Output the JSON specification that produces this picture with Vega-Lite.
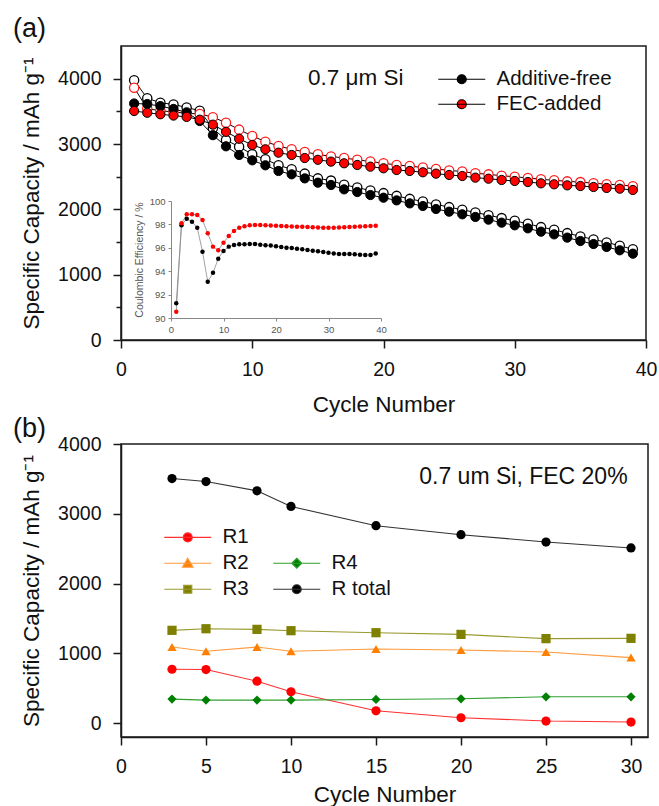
{
"$schema": "https://vega.github.io/schema/vega-lite/v6.json",
"padding": {"left": 12, "top": 14, "right": 5, "bottom": 0},
"datasets": {
"capacity": [
{"cycle":1,"series":"Additive-free","kind":"discharge","capacity":3620},{"cycle":2,"series":"Additive-free","kind":"discharge","capacity":3612},{"cycle":3,"series":"Additive-free","kind":"discharge","capacity":3580},{"cycle":4,"series":"Additive-free","kind":"discharge","capacity":3536},{"cycle":5,"series":"Additive-free","kind":"discharge","capacity":3485},{"cycle":6,"series":"Additive-free","kind":"discharge","capacity":3352},{"cycle":7,"series":"Additive-free","kind":"discharge","capacity":3135},{"cycle":8,"series":"Additive-free","kind":"discharge","capacity":2965},{"cycle":9,"series":"Additive-free","kind":"discharge","capacity":2832},{"cycle":10,"series":"Additive-free","kind":"discharge","capacity":2750},{"cycle":11,"series":"Additive-free","kind":"discharge","capacity":2674},{"cycle":12,"series":"Additive-free","kind":"discharge","capacity":2587},{"cycle":13,"series":"Additive-free","kind":"discharge","capacity":2536},{"cycle":14,"series":"Additive-free","kind":"discharge","capacity":2474},{"cycle":15,"series":"Additive-free","kind":"discharge","capacity":2408},{"cycle":16,"series":"Additive-free","kind":"discharge","capacity":2373},{"cycle":17,"series":"Additive-free","kind":"discharge","capacity":2306},{"cycle":18,"series":"Additive-free","kind":"discharge","capacity":2265},{"cycle":19,"series":"Additive-free","kind":"discharge","capacity":2219},{"cycle":20,"series":"Additive-free","kind":"discharge","capacity":2178},{"cycle":21,"series":"Additive-free","kind":"discharge","capacity":2137},{"cycle":22,"series":"Additive-free","kind":"discharge","capacity":2091},{"cycle":23,"series":"Additive-free","kind":"discharge","capacity":2051},{"cycle":24,"series":"Additive-free","kind":"discharge","capacity":2005},{"cycle":25,"series":"Additive-free","kind":"discharge","capacity":1964},{"cycle":26,"series":"Additive-free","kind":"discharge","capacity":1924},{"cycle":27,"series":"Additive-free","kind":"discharge","capacity":1883},{"cycle":28,"series":"Additive-free","kind":"discharge","capacity":1842},{"cycle":29,"series":"Additive-free","kind":"discharge","capacity":1796},{"cycle":30,"series":"Additive-free","kind":"discharge","capacity":1755},{"cycle":31,"series":"Additive-free","kind":"discharge","capacity":1709},{"cycle":32,"series":"Additive-free","kind":"discharge","capacity":1658},{"cycle":33,"series":"Additive-free","kind":"discharge","capacity":1617},{"cycle":34,"series":"Additive-free","kind":"discharge","capacity":1567},{"cycle":35,"series":"Additive-free","kind":"discharge","capacity":1515},{"cycle":36,"series":"Additive-free","kind":"discharge","capacity":1469},{"cycle":37,"series":"Additive-free","kind":"discharge","capacity":1424},{"cycle":38,"series":"Additive-free","kind":"discharge","capacity":1373},{"cycle":39,"series":"Additive-free","kind":"discharge","capacity":1321},
{"cycle":1,"series":"Additive-free","kind":"charge","capacity":3975},{"cycle":2,"series":"Additive-free","kind":"charge","capacity":3700},{"cycle":3,"series":"Additive-free","kind":"charge","capacity":3632},{"cycle":4,"series":"Additive-free","kind":"charge","capacity":3604},{"cycle":5,"series":"Additive-free","kind":"charge","capacity":3560},{"cycle":6,"series":"Additive-free","kind":"charge","capacity":3510},{"cycle":7,"series":"Additive-free","kind":"charge","capacity":3240},{"cycle":8,"series":"Additive-free","kind":"charge","capacity":3060},{"cycle":9,"series":"Additive-free","kind":"charge","capacity":2959},{"cycle":10,"series":"Additive-free","kind":"charge","capacity":2842},{"cycle":11,"series":"Additive-free","kind":"charge","capacity":2766},{"cycle":12,"series":"Additive-free","kind":"charge","capacity":2674},{"cycle":13,"series":"Additive-free","kind":"charge","capacity":2613},{"cycle":14,"series":"Additive-free","kind":"charge","capacity":2547},{"cycle":15,"series":"Additive-free","kind":"charge","capacity":2474},{"cycle":16,"series":"Additive-free","kind":"charge","capacity":2440},{"cycle":17,"series":"Additive-free","kind":"charge","capacity":2375},{"cycle":18,"series":"Additive-free","kind":"charge","capacity":2333},{"cycle":19,"series":"Additive-free","kind":"charge","capacity":2288},{"cycle":20,"series":"Additive-free","kind":"charge","capacity":2248},{"cycle":21,"series":"Additive-free","kind":"charge","capacity":2206},{"cycle":22,"series":"Additive-free","kind":"charge","capacity":2160},{"cycle":23,"series":"Additive-free","kind":"charge","capacity":2120},{"cycle":24,"series":"Additive-free","kind":"charge","capacity":2075},{"cycle":25,"series":"Additive-free","kind":"charge","capacity":2034},{"cycle":26,"series":"Additive-free","kind":"charge","capacity":1993},{"cycle":27,"series":"Additive-free","kind":"charge","capacity":1952},{"cycle":28,"series":"Additive-free","kind":"charge","capacity":1911},{"cycle":29,"series":"Additive-free","kind":"charge","capacity":1866},{"cycle":30,"series":"Additive-free","kind":"charge","capacity":1824},{"cycle":31,"series":"Additive-free","kind":"charge","capacity":1779},{"cycle":32,"series":"Additive-free","kind":"charge","capacity":1728},{"cycle":33,"series":"Additive-free","kind":"charge","capacity":1687},{"cycle":34,"series":"Additive-free","kind":"charge","capacity":1636},{"cycle":35,"series":"Additive-free","kind":"charge","capacity":1585},{"cycle":36,"series":"Additive-free","kind":"charge","capacity":1540},{"cycle":37,"series":"Additive-free","kind":"charge","capacity":1494},{"cycle":38,"series":"Additive-free","kind":"charge","capacity":1443},{"cycle":39,"series":"Additive-free","kind":"charge","capacity":1388},
{"cycle":1,"series":"FEC-added","kind":"discharge","capacity":3505},{"cycle":2,"series":"FEC-added","kind":"discharge","capacity":3478},{"cycle":3,"series":"FEC-added","kind":"discharge","capacity":3455},{"cycle":4,"series":"FEC-added","kind":"discharge","capacity":3435},{"cycle":5,"series":"FEC-added","kind":"discharge","capacity":3415},{"cycle":6,"series":"FEC-added","kind":"discharge","capacity":3372},{"cycle":7,"series":"FEC-added","kind":"discharge","capacity":3296},{"cycle":8,"series":"FEC-added","kind":"discharge","capacity":3186},{"cycle":9,"series":"FEC-added","kind":"discharge","capacity":3080},{"cycle":10,"series":"FEC-added","kind":"discharge","capacity":2985},{"cycle":11,"series":"FEC-added","kind":"discharge","capacity":2919},{"cycle":12,"series":"FEC-added","kind":"discharge","capacity":2867},{"cycle":13,"series":"FEC-added","kind":"discharge","capacity":2832},{"cycle":14,"series":"FEC-added","kind":"discharge","capacity":2785},{"cycle":15,"series":"FEC-added","kind":"discharge","capacity":2758},{"cycle":16,"series":"FEC-added","kind":"discharge","capacity":2730},{"cycle":17,"series":"FEC-added","kind":"discharge","capacity":2705},{"cycle":18,"series":"FEC-added","kind":"discharge","capacity":2679},{"cycle":19,"series":"FEC-added","kind":"discharge","capacity":2653},{"cycle":20,"series":"FEC-added","kind":"discharge","capacity":2628},{"cycle":21,"series":"FEC-added","kind":"discharge","capacity":2602},{"cycle":22,"series":"FEC-added","kind":"discharge","capacity":2587},{"cycle":23,"series":"FEC-added","kind":"discharge","capacity":2567},{"cycle":24,"series":"FEC-added","kind":"discharge","capacity":2546},{"cycle":25,"series":"FEC-added","kind":"discharge","capacity":2526},{"cycle":26,"series":"FEC-added","kind":"discharge","capacity":2510},{"cycle":27,"series":"FEC-added","kind":"discharge","capacity":2485},{"cycle":28,"series":"FEC-added","kind":"discharge","capacity":2469},{"cycle":29,"series":"FEC-added","kind":"discharge","capacity":2449},{"cycle":30,"series":"FEC-added","kind":"discharge","capacity":2434},{"cycle":31,"series":"FEC-added","kind":"discharge","capacity":2418},{"cycle":32,"series":"FEC-added","kind":"discharge","capacity":2398},{"cycle":33,"series":"FEC-added","kind":"discharge","capacity":2383},{"cycle":34,"series":"FEC-added","kind":"discharge","capacity":2367},{"cycle":35,"series":"FEC-added","kind":"discharge","capacity":2357},{"cycle":36,"series":"FEC-added","kind":"discharge","capacity":2342},{"cycle":37,"series":"FEC-added","kind":"discharge","capacity":2327},{"cycle":38,"series":"FEC-added","kind":"discharge","capacity":2316},{"cycle":39,"series":"FEC-added","kind":"discharge","capacity":2296},
{"cycle":1,"series":"FEC-added","kind":"charge","capacity":3862},{"cycle":2,"series":"FEC-added","kind":"charge","capacity":3540},{"cycle":3,"series":"FEC-added","kind":"charge","capacity":3510},{"cycle":4,"series":"FEC-added","kind":"charge","capacity":3490},{"cycle":5,"series":"FEC-added","kind":"charge","capacity":3470},{"cycle":6,"series":"FEC-added","kind":"charge","capacity":3460},{"cycle":7,"series":"FEC-added","kind":"charge","capacity":3410},{"cycle":8,"series":"FEC-added","kind":"charge","capacity":3326},{"cycle":9,"series":"FEC-added","kind":"charge","capacity":3220},{"cycle":10,"series":"FEC-added","kind":"charge","capacity":3123},{"cycle":11,"series":"FEC-added","kind":"charge","capacity":3036},{"cycle":12,"series":"FEC-added","kind":"charge","capacity":2970},{"cycle":13,"series":"FEC-added","kind":"charge","capacity":2919},{"cycle":14,"series":"FEC-added","kind":"charge","capacity":2878},{"cycle":15,"series":"FEC-added","kind":"charge","capacity":2842},{"cycle":16,"series":"FEC-added","kind":"charge","capacity":2810},{"cycle":17,"series":"FEC-added","kind":"charge","capacity":2785},{"cycle":18,"series":"FEC-added","kind":"charge","capacity":2758},{"cycle":19,"series":"FEC-added","kind":"charge","capacity":2732},{"cycle":20,"series":"FEC-added","kind":"charge","capacity":2706},{"cycle":21,"series":"FEC-added","kind":"charge","capacity":2680},{"cycle":22,"series":"FEC-added","kind":"charge","capacity":2662},{"cycle":23,"series":"FEC-added","kind":"charge","capacity":2640},{"cycle":24,"series":"FEC-added","kind":"charge","capacity":2618},{"cycle":25,"series":"FEC-added","kind":"charge","capacity":2596},{"cycle":26,"series":"FEC-added","kind":"charge","capacity":2578},{"cycle":27,"series":"FEC-added","kind":"charge","capacity":2553},{"cycle":28,"series":"FEC-added","kind":"charge","capacity":2535},{"cycle":29,"series":"FEC-added","kind":"charge","capacity":2515},{"cycle":30,"series":"FEC-added","kind":"charge","capacity":2498},{"cycle":31,"series":"FEC-added","kind":"charge","capacity":2481},{"cycle":32,"series":"FEC-added","kind":"charge","capacity":2460},{"cycle":33,"series":"FEC-added","kind":"charge","capacity":2444},{"cycle":34,"series":"FEC-added","kind":"charge","capacity":2428},{"cycle":35,"series":"FEC-added","kind":"charge","capacity":2417},{"cycle":36,"series":"FEC-added","kind":"charge","capacity":2400},{"cycle":37,"series":"FEC-added","kind":"charge","capacity":2385},{"cycle":38,"series":"FEC-added","kind":"charge","capacity":2373},{"cycle":39,"series":"FEC-added","kind":"charge","capacity":2355}
],
"ce": [
{"cycle":1,"series":"Additive-free","ce":91.26},{"cycle":2,"series":"Additive-free","ce":97.92},{"cycle":3,"series":"Additive-free","ce":98.49},{"cycle":4,"series":"Additive-free","ce":98.23},{"cycle":5,"series":"Additive-free","ce":97.72},{"cycle":6,"series":"Additive-free","ce":95.67},{"cycle":7,"series":"Additive-free","ce":93.1},{"cycle":8,"series":"Additive-free","ce":93.87},{"cycle":9,"series":"Additive-free","ce":95.07},{"cycle":10,"series":"Additive-free","ce":95.73},{"cycle":11,"series":"Additive-free","ce":96.1},{"cycle":12,"series":"Additive-free","ce":96.24},{"cycle":13,"series":"Additive-free","ce":96.3},{"cycle":14,"series":"Additive-free","ce":96.3},{"cycle":15,"series":"Additive-free","ce":96.33},{"cycle":16,"series":"Additive-free","ce":96.33},{"cycle":17,"series":"Additive-free","ce":96.27},{"cycle":18,"series":"Additive-free","ce":96.22},{"cycle":19,"series":"Additive-free","ce":96.19},{"cycle":20,"series":"Additive-free","ce":96.13},{"cycle":21,"series":"Additive-free","ce":96.07},{"cycle":22,"series":"Additive-free","ce":96.01},{"cycle":23,"series":"Additive-free","ce":95.98},{"cycle":24,"series":"Additive-free","ce":95.92},{"cycle":25,"series":"Additive-free","ce":95.87},{"cycle":26,"series":"Additive-free","ce":95.81},{"cycle":27,"series":"Additive-free","ce":95.75},{"cycle":28,"series":"Additive-free","ce":95.7},{"cycle":29,"series":"Additive-free","ce":95.64},{"cycle":30,"series":"Additive-free","ce":95.58},{"cycle":31,"series":"Additive-free","ce":95.52},{"cycle":32,"series":"Additive-free","ce":95.47},{"cycle":33,"series":"Additive-free","ce":95.47},{"cycle":34,"series":"Additive-free","ce":95.47},{"cycle":35,"series":"Additive-free","ce":95.44},{"cycle":36,"series":"Additive-free","ce":95.41},{"cycle":37,"series":"Additive-free","ce":95.38},{"cycle":38,"series":"Additive-free","ce":95.38},{"cycle":39,"series":"Additive-free","ce":95.52},
{"cycle":1,"series":"FEC-added","ce":90.54},{"cycle":2,"series":"FEC-added","ce":98.09},{"cycle":3,"series":"FEC-added","ce":98.86},{"cycle":4,"series":"FEC-added","ce":98.86},{"cycle":5,"series":"FEC-added","ce":98.8},{"cycle":6,"series":"FEC-added","ce":98.37},{"cycle":7,"series":"FEC-added","ce":97.24},{"cycle":8,"series":"FEC-added","ce":96.1},{"cycle":9,"series":"FEC-added","ce":95.79},{"cycle":10,"series":"FEC-added","ce":96.44},{"cycle":11,"series":"FEC-added","ce":97.01},{"cycle":12,"series":"FEC-added","ce":97.44},{"cycle":13,"series":"FEC-added","ce":97.72},{"cycle":14,"series":"FEC-added","ce":97.84},{"cycle":15,"series":"FEC-added","ce":97.92},{"cycle":16,"series":"FEC-added","ce":97.95},{"cycle":17,"series":"FEC-added","ce":97.95},{"cycle":18,"series":"FEC-added","ce":97.92},{"cycle":19,"series":"FEC-added","ce":97.9},{"cycle":20,"series":"FEC-added","ce":97.88},{"cycle":21,"series":"FEC-added","ce":97.86},{"cycle":22,"series":"FEC-added","ce":97.84},{"cycle":23,"series":"FEC-added","ce":97.82},{"cycle":24,"series":"FEC-added","ce":97.8},{"cycle":25,"series":"FEC-added","ce":97.8},{"cycle":26,"series":"FEC-added","ce":97.78},{"cycle":27,"series":"FEC-added","ce":97.76},{"cycle":28,"series":"FEC-added","ce":97.74},{"cycle":29,"series":"FEC-added","ce":97.72},{"cycle":30,"series":"FEC-added","ce":97.72},{"cycle":31,"series":"FEC-added","ce":97.72},{"cycle":32,"series":"FEC-added","ce":97.74},{"cycle":33,"series":"FEC-added","ce":97.76},{"cycle":34,"series":"FEC-added","ce":97.78},{"cycle":35,"series":"FEC-added","ce":97.8},{"cycle":36,"series":"FEC-added","ce":97.82},{"cycle":37,"series":"FEC-added","ce":97.84},{"cycle":38,"series":"FEC-added","ce":97.86},{"cycle":39,"series":"FEC-added","ce":97.89}
],
"comp": [
{"cycle":3,"series":"R1","capacity":771},{"cycle":5,"series":"R1","capacity":767},{"cycle":8,"series":"R1","capacity":600},{"cycle":10,"series":"R1","capacity":448},{"cycle":15,"series":"R1","capacity":176},{"cycle":20,"series":"R1","capacity":76},{"cycle":25,"series":"R1","capacity":29},{"cycle":30,"series":"R1","capacity":14},
{"cycle":3,"series":"R2","capacity":1090},{"cycle":5,"series":"R2","capacity":1029},{"cycle":8,"series":"R2","capacity":1090},{"cycle":10,"series":"R2","capacity":1029},{"cycle":15,"series":"R2","capacity":1062},{"cycle":20,"series":"R2","capacity":1048},{"cycle":25,"series":"R2","capacity":1019},{"cycle":30,"series":"R2","capacity":938},
{"cycle":3,"series":"R3","capacity":1329},{"cycle":5,"series":"R3","capacity":1352},{"cycle":8,"series":"R3","capacity":1343},{"cycle":10,"series":"R3","capacity":1324},{"cycle":15,"series":"R3","capacity":1295},{"cycle":20,"series":"R3","capacity":1271},{"cycle":25,"series":"R3","capacity":1210},{"cycle":30,"series":"R3","capacity":1214},
{"cycle":3,"series":"R4","capacity":343},{"cycle":5,"series":"R4","capacity":329},{"cycle":8,"series":"R4","capacity":329},{"cycle":10,"series":"R4","capacity":329},{"cycle":15,"series":"R4","capacity":338},{"cycle":20,"series":"R4","capacity":348},{"cycle":25,"series":"R4","capacity":376},{"cycle":30,"series":"R4","capacity":376},
{"cycle":3,"series":"R total","capacity":3505},{"cycle":5,"series":"R total","capacity":3462},{"cycle":8,"series":"R total","capacity":3329},{"cycle":10,"series":"R total","capacity":3105},{"cycle":15,"series":"R total","capacity":2829},{"cycle":20,"series":"R total","capacity":2700},{"cycle":25,"series":"R total","capacity":2595},{"cycle":30,"series":"R total","capacity":2510}
]
},
"bounds": "flush",
"spacing": 104,
"resolve": {"scale": {"color": "independent", "fill": "independent", "stroke": "independent", "shape": "independent"}, "axis": {}, "legend": {"color": "independent", "fill": "independent", "stroke": "independent", "shape": "independent"}},
"vconcat": [
{
"title": {"text": "(a)", "anchor": "start", "frame": "group", "dx": -108, "offset": -18, "baseline": "alphabetic", "fontSize": 27, "fontWeight": "normal", "font": "Liberation Sans", "color": "#111"},
"width": 525,
"height": 294,
"resolve": {"scale": {"x": "independent", "y": "independent"}, "axis": {"x": "independent", "y": "independent"}, "legend": {}},
"layer": [
{
"data": {"name": "capacity"},
"encoding": {
"x": {"field": "cycle", "type": "quantitative", "scale": {"domain": [0, 40], "nice": false}, "axis": {"values": [0, 10, 20, 30, 40], "title": "Cycle Number", "titlePadding": 15}},
"y": {"field": "capacity", "type": "quantitative", "scale": {"domain": [0, 4500], "nice": false}, "axis": {"values": [0, 500, 1000, 1500, 2000, 2500, 3000, 3500, 4000], "format": "d", "labelExpr": "datum.value % 1000 === 0 ? datum.label : ''", "tickSize": {"condition": {"test": "datum.value % 1000 !== 0", "value": 5}, "value": 8}, "title": "Specific Capacity / mAh g⁻¹", "titlePadding": 14}}
},
"layer": [
{"mark": {"type": "line", "color": "#000", "strokeWidth": 1}, "encoding": {"detail": [{"field": "series"}, {"field": "kind"}]}},
{"transform": [{"filter": "datum.kind === 'charge' && datum.series === 'Additive-free'"}], "mark": {"type": "circle", "size": 85, "fill": "#ffffff", "stroke": "#000000", "fillOpacity": 1, "opacity": 1, "strokeWidth": 1.3}},
{"transform": [{"filter": "datum.kind === 'charge' && datum.series === 'FEC-added'"}], "mark": {"type": "circle", "size": 85, "fill": "#ffffff", "stroke": "#ff1a1a", "fillOpacity": 1, "opacity": 1, "strokeWidth": 1.3}},
{"transform": [{"filter": "datum.kind === 'discharge'"}], "mark": {"type": "circle", "size": 85, "stroke": "#000", "strokeWidth": 1, "opacity": 1}, "encoding": {"fill": {"field": "series", "type": "nominal", "scale": {"domain": ["Additive-free", "FEC-added"], "range": ["#000000", "#ff0000"]}, "legend": {"orient": "none", "legendX": 313, "legendY": 23, "title": null, "symbolType": "M-1.2,0H8.2M2.6,0A0.9,0.9,0,1,1,4.4,0A0.9,0.9,0,1,1,2.6,0Z", "symbolSize": 100, "symbolStrokeColor": "#000", "symbolStrokeWidth": 1.2, "symbolOpacity": 1, "labelFontSize": 20.5, "labelOffset": 42, "rowPadding": 4}}}}
]
},
{
"data": {"name": "ce"},
"encoding": {
"x": {"field": "cycle", "type": "quantitative", "scale": {"domain": [0, 40], "range": [50, 260], "nice": false}, "axis": {"orient": "bottom", "offset": -22, "values": [0, 10, 20, 30, 40], "title": null, "tickSize": 3, "labelPadding": 3, "labelFontSize": 9.5, "labelColor": "#555", "domainColor": "#888", "tickColor": "#888", "domainWidth": 1, "tickWidth": 1}},
"y": {"field": "ce", "type": "quantitative", "scale": {"domain": [90, 100], "range": [272, 155], "nice": false, "zero": false}, "axis": {"orient": "left", "offset": -50, "values": [90, 92, 94, 96, 98, 100], "title": "Coulombic Efficiency / %", "titleFontSize": 10.5, "titleColor": "#555", "titlePadding": 5, "tickSize": 3, "labelPadding": 3, "labelFontSize": 9.5, "labelColor": "#555", "domainColor": "#888", "tickColor": "#888", "domainWidth": 1, "tickWidth": 1}}
},
"layer": [
{"mark": {"type": "line", "color": "#8a8a8a", "strokeWidth": 0.8}, "encoding": {"detail": {"field": "series"}}},
{"transform": [{"filter": "datum.series === 'Additive-free'"}], "mark": {"type": "circle", "size": 20, "opacity": 1, "color": "#000000"}},
{"transform": [{"filter": "datum.series === 'FEC-added'"}], "mark": {"type": "circle", "size": 20, "opacity": 1, "color": "#ff0000"}}
]
},
{
"data": {"values": [{"label": "0.7 μm Si"}]},
"mark": {"type": "text", "align": "left", "baseline": "middle", "fontSize": 22.5, "font": "Liberation Sans", "color": "#111"},
"encoding": {
"x": {"datum": 14.25, "type": "quantitative", "scale": {"domain": [0, 40], "nice": false}, "axis": null},
"y": {"datum": 4010, "type": "quantitative", "scale": {"domain": [0, 4500], "nice": false}, "axis": null},
"text": {"field": "label", "type": "nominal"}
}
}
]
},
{
"title": {"text": "(b)", "anchor": "start", "frame": "group", "dx": -108, "offset": -30, "baseline": "alphabetic", "fontSize": 27, "fontWeight": "normal", "font": "Liberation Sans", "color": "#111"},
"width": 527,
"height": 293,
"layer": [
{
"data": {"name": "comp"},
"resolve": {"scale": {"shape": "independent", "fill": "independent", "stroke": "independent"}, "axis": {}, "legend": {"shape": "independent", "fill": "independent", "stroke": "independent"}},
"encoding": {
"x": {"field": "cycle", "type": "quantitative", "scale": {"domain": [0, 31], "nice": false}, "axis": {"values": [0, 5, 10, 15, 20, 25, 30], "title": "Cycle Number", "titlePadding": 8}},
"y": {"field": "capacity", "type": "quantitative", "scale": {"domain": [-200, 4000], "nice": false}, "axis": {"values": [0, 500, 1000, 1500, 2000, 2500, 3000, 3500, 4000], "format": "d", "labelExpr": "datum.value % 1000 === 0 ? datum.label : ''", "tickSize": {"condition": {"test": "datum.value % 1000 !== 0", "value": 5}, "value": 8}, "title": "Specific Capacity / mAh g⁻¹", "titlePadding": 14}}
},
"layer": [
{"mark": {"type": "line", "strokeWidth": 1.1}, "encoding": {"color": {"field": "series", "type": "nominal", "scale": {"domain": ["R1", "R2", "R3", " ", "R4", "R total"], "range": ["#ff3030", "#ff9a40", "#9a9a30", "rgba(0,0,0,0)", "#30a030", "#333333"]}, "legend": null}}},
{"mark": {"type": "point", "filled": true, "size": 85, "opacity": 1}, "encoding": {"fill": {"field": "series", "type": "nominal", "scale": {"domain": ["R1", "R2", "R3", " ", "R4", "R total"], "range": ["#ff0000", "#ff8000", "#808000", "rgba(0,0,0,0)", "#008000", "#000000"]}, "legend": null}, "shape": {"field": "series", "type": "nominal", "scale": {"domain": ["R1", "R2", "R3", " ", "R4", "R total"], "range": ["circle", "triangle-up", "square", "circle", "diamond", "circle"]}, "legend": null}}},
{"transform": [{"filter": "false"}], "mark": {"type": "point", "filled": false, "opacity": 1, "strokeWidth": 1.2},
 "encoding": {
  "shape": {"field": "series", "type": "nominal", "scale": {"domain": ["R1", "R2", "R3", " ", "R4", "R total"], "range": ["M-1.2,0H8.2M2.6,0A0.9,0.9,0,1,1,4.4,0A0.9,0.9,0,1,1,2.6,0Z", "M-1.2,0H8.2M3.5,-1L4.55,0.8L2.45,0.8Z", "M-1.2,0H8.2M2.7,-0.8H4.3V0.8H2.7Z", "M0,0", "M-1.2,0H8.2M3.5,-1L4.5,0L3.5,1L2.5,0Z", "M-1.2,0H8.2M2.6,0A0.9,0.9,0,1,1,4.4,0A0.9,0.9,0,1,1,2.6,0Z"]}, "legend": {"orient": "none", "legendX": 39, "legendY": 83, "title": null, "columns": 2, "columnPadding": 20, "rowPadding": 5, "symbolSize": 100, "symbolStrokeWidth": 1.2, "symbolOpacity": 1, "labelFontSize": 20.5, "labelOffset": 42}},
  "fill": {"field": "series", "type": "nominal", "scale": {"domain": ["R1", "R2", "R3", " ", "R4", "R total"], "range": ["#ff0000", "#ff8000", "#808000", "rgba(0,0,0,0)", "#008000", "#000000"]}, "legend": {"orient": "none", "legendX": 39, "legendY": 83, "title": null, "columns": 2, "columnPadding": 20, "rowPadding": 5, "symbolSize": 100, "symbolStrokeWidth": 1.2, "symbolOpacity": 1, "labelFontSize": 20.5, "labelOffset": 42}},
  "stroke": {"field": "series", "type": "nominal", "scale": {"domain": ["R1", "R2", "R3", " ", "R4", "R total"], "range": ["#ff3030", "#ff9a40", "#9a9a30", "rgba(0,0,0,0)", "#30a030", "#333333"]}, "legend": {"orient": "none", "legendX": 39, "legendY": 83, "title": null, "columns": 2, "columnPadding": 20, "rowPadding": 5, "symbolSize": 100, "symbolStrokeWidth": 1.2, "symbolOpacity": 1, "labelFontSize": 20.5, "labelOffset": 42}}
 }}
]
},
{
"data": {"values": [{"label": "0.7 um Si, FEC 20%"}]},
"mark": {"type": "text", "align": "right", "baseline": "middle", "fontSize": 23, "font": "Liberation Sans", "color": "#111"},
"encoding": {
"x": {"datum": 29.8, "type": "quantitative"},
"y": {"datum": 3529, "type": "quantitative"},
"text": {"field": "label", "type": "nominal"}
}
}
]
}
],
"config": {
"font": "Liberation Sans",
"view": {"stroke": "#1a1a1a", "strokeWidth": 1.5},
"axis": {"labelFont": "Liberation Sans", "titleFont": "Liberation Sans", "labelFontSize": 19.5, "titleFontSize": 22.5, "titleFontWeight": "normal", "labelColor": "#111", "titleColor": "#111", "domainColor": "#1a1a1a", "tickColor": "#1a1a1a", "domainWidth": 1.5, "tickWidth": 1.5, "grid": false, "labelPadding": 12, "tickSize": 8, "labelFlush": false, "labelOverlap": false},
"legend": {"labelFont": "Liberation Sans", "labelFontSize": 20.5, "labelColor": "#111"}
}
}
